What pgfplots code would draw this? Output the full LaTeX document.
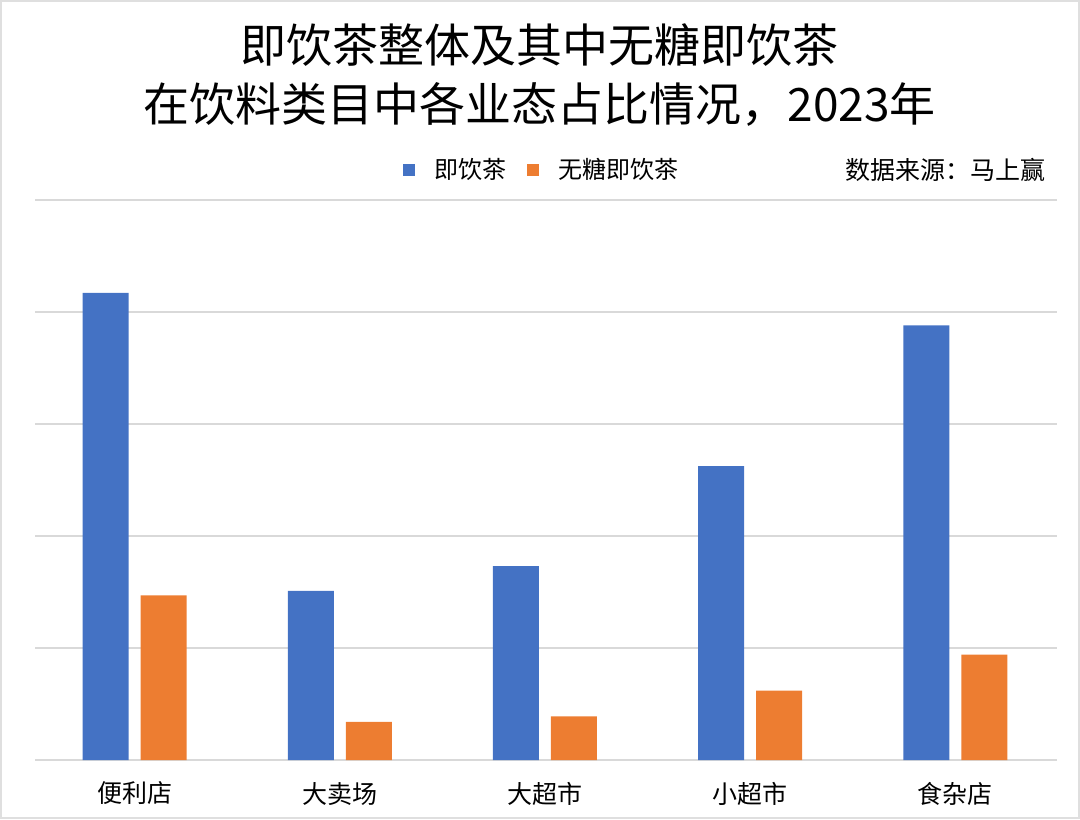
\documentclass[border=0pt]{standalone}
\usepackage{pgfplots}
\pgfplotsset{compat=1.18}
\usepackage{fontspec}
\setmainfont{Noto Sans CJK SC}
\definecolor{xlblue}{HTML}{4472C4}
\definecolor{xlorange}{HTML}{ED7D31}
\definecolor{gridgray}{HTML}{D9D9D9}

\begin{document}
\begin{tikzpicture}
\path[use as bounding box] (-17.5pt,-29.5pt) rectangle (522.5pt,380pt);
\draw[gray!25, line width=1.2pt] (-16.9pt,-28.9pt) rectangle (521.9pt,379.4pt);
\begin{axis}[
    at={(0,0)}, anchor=south west,
    scale only axis,
    width=511pt, height=280pt,
    ybar=6pt,
    bar width=23pt,
    xmin=-0.485, xmax=4.495,
    ymin=0, ymax=5,
    xtick=data,
    xticklabels={便利店, 大卖场, 大超市, 小超市, 食杂店},
    ytick={0,1,2,3,4,5},
    yticklabels={},
    ymajorgrids,
    grid style={gridgray, line width=0.8pt},
    axis x line*=bottom,
    axis y line*=left,
    y axis line style={draw=none},
    x axis line style={gridgray, line width=0.8pt},
    major tick length=0pt,
    tick style={draw=none},
    xticklabel style={font=\fontsize{12.5}{14}\selectfont, yshift=-7.5pt},
    legend style={draw=none, at={(0.497,1.054)}, anchor=center,
        font=\fontsize{12}{14}\selectfont, column sep=8pt},
    legend columns=2,
    legend image code/.code={\fill[#1] (0pt,-3pt) rectangle (6pt,3pt);},
    clip=false,
]
\addplot[fill=xlblue, draw=none] coordinates {(0,4.17) (1,1.51) (2,1.73) (3,2.625) (4,3.88)};
\addplot[fill=xlorange, draw=none] coordinates {(0,1.47) (1,0.34) (2,0.39) (3,0.62) (4,0.94)};
\legend{即饮茶, 无糖即饮茶}
\node[anchor=east, font=\fontsize{12.5}{14}\selectfont] at (rel axis cs:0.996,1.054) {数据来源：马上赢};
\node[font=\fontsize{23}{28}\selectfont] at (rel axis cs:0.494,1.277) {即饮茶整体及其中无糖即饮茶};
\node[font=\fontsize{23}{28}\selectfont] at (rel axis cs:0.494,1.17) {在饮料类目中各业态占比情况，2023年};
\end{axis}
\end{tikzpicture}
\end{document}
